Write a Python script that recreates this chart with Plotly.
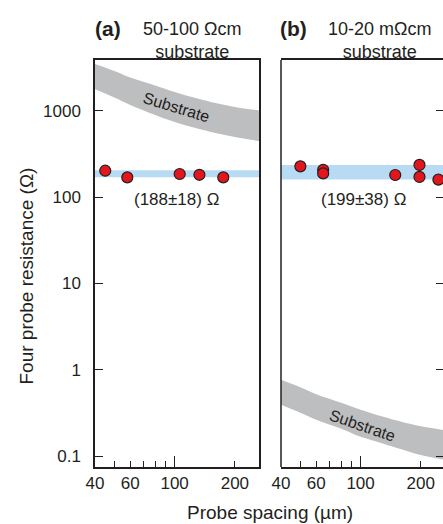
import plotly.graph_objects as go
import math

# ---------------- data ----------------
SPACING_A = [45, 58, 106, 133, 175]
R_A = [203, 170, 186, 182, 170]
SPACING_B = [50, 65, 65, 149, 197, 197, 245]
R_B = [228, 208, 189, 181, 237, 172, 160]

MEAN_A, ERR_A = 188, 18
MEAN_B, ERR_B = 199, 38
BAND_X = [40, 270]

SUB_X = [40, 50, 60, 80, 100, 130, 160, 200, 264]
SUB_A_HIGH = [3508, 2910, 2446, 1976, 1661, 1396, 1238, 1113, 1013]
SUB_A_LOW = [1785, 1434, 1174, 899, 746, 627, 556, 500, 449]
SUB_B_HIGH = [0.766, 0.627, 0.520, 0.414, 0.344, 0.285, 0.249, 0.221, 0.199]
SUB_B_LOW = [0.393, 0.317, 0.263, 0.207, 0.167, 0.139, 0.120, 0.103, 0.0905]

X_TICKS = [40, 60, 100, 200]
X_MINOR = [50, 70, 80, 90]
Y_TICKS = [0.1, 1, 10, 100, 1000]
Y_TICKTEXT = ["0.1", "1", "10", "100", "1000"]

# ---------------- style ----------------
W, H = 443, 524
INK = "#231f20"
GRAY = "#bdbec0"
BLUE = "#b8dbf3"
RED = "#e3161e"
FONT = "Liberation Sans, Arial, sans-serif"

def fx(p):
    return p / W

def fy(p):
    return 1 - p / H

fig = go.Figure()

def add_band(xs, lo, hi, color, xa, ya, spline=True):
    shape = "spline" if spline else "linear"
    fig.add_trace(go.Scatter(x=xs, y=lo, mode="lines", line=dict(width=0, shape=shape, color=color),
                             xaxis=xa, yaxis=ya, showlegend=False, hoverinfo="skip"))
    fig.add_trace(go.Scatter(x=xs, y=hi, mode="lines", line=dict(width=0, shape=shape, color=color),
                             fill="tonexty", fillcolor=color,
                             xaxis=xa, yaxis=ya, showlegend=False, hoverinfo="skip"))

# panel a
add_band(SUB_X, SUB_A_LOW, SUB_A_HIGH, GRAY, "x", "y")
add_band(BAND_X, [MEAN_A - ERR_A] * 2, [MEAN_A + ERR_A] * 2, BLUE, "x", "y", spline=False)
fig.add_trace(go.Scatter(x=SPACING_A, y=R_A, mode="markers", xaxis="x", yaxis="y",
                         marker=dict(size=11, color=RED, line=dict(width=1.2, color=INK)),
                         showlegend=False))
# panel b
add_band(SUB_X, SUB_B_LOW, SUB_B_HIGH, GRAY, "x2", "y2")
add_band(BAND_X, [MEAN_B - ERR_B] * 2, [MEAN_B + ERR_B] * 2, BLUE, "x2", "y2", spline=False)
fig.add_trace(go.Scatter(x=SPACING_B, y=R_B, mode="markers", xaxis="x2", yaxis="y2",
                         marker=dict(size=11, color=RED, line=dict(width=1.2, color=INK)),
                         showlegend=False))

# ---------------- axes ----------------
YR = [math.log10(0.0746), math.log10(3900)]
XRA = [math.log10(40), math.log10(264)]
XRB = [math.log10(40), math.log10(40) + 162 / 200]
YDOM = [fy(467), fy(60)]
XDA = [fx(95), fx(259)]
XDB = [fx(281), 1.0]

tickfont = dict(family=FONT, size=17, color=INK)

common_x = dict(type="log", showgrid=False, zeroline=False, showline=True, linecolor=INK, linewidth=1.5,
                mirror=True, ticks="inside", ticklen=6, tickwidth=1.3, tickcolor=INK,
                tickmode="array", tickvals=X_TICKS, ticktext=[str(v) for v in X_TICKS],
                tickfont=tickfont, ticklabelstandoff=0, automargin=False,
                minor=dict(tickmode="array", tickvals=X_MINOR, ticks="inside", ticklen=6,
                           tickwidth=1.3, tickcolor=INK, showgrid=False))

fig.update_layout(
    width=W, height=H,
    margin=dict(l=0, r=0, t=0, b=0),
    paper_bgcolor="white", plot_bgcolor="white",
    xaxis=dict(domain=XDA, range=XRA, anchor="y", **common_x),
    xaxis2=dict(domain=XDB, range=XRB, anchor="y2", **common_x),
    xaxis3=dict(type="log", overlaying="x", anchor="y", range=XRA, showgrid=False, zeroline=False,
                showline=False, ticks="inside", ticklen=11, tickwidth=1.3, tickcolor=INK,
                tickmode="array", tickvals=[100], showticklabels=False, automargin=False),
    xaxis4=dict(type="log", overlaying="x2", anchor="y2", range=XRB, showgrid=False, zeroline=False,
                showline=False, ticks="inside", ticklen=11, tickwidth=1.3, tickcolor=INK,
                tickmode="array", tickvals=[100], showticklabels=False, automargin=False),
    yaxis=dict(domain=YDOM, range=YR, type="log", anchor="x", showgrid=False, zeroline=False,
               showline=True, linecolor=INK, linewidth=1.5, mirror=True,
               ticks="inside", ticklen=8, tickwidth=1.3, tickcolor=INK,
               tickmode="array", tickvals=Y_TICKS, ticktext=Y_TICKTEXT,
               tickfont=tickfont, ticklabelstandoff=9, automargin=False),
    yaxis2=dict(domain=YDOM, range=YR, type="log", anchor="x2", side="right", showgrid=False,
                zeroline=False, showline=False,
                ticks="inside", ticklen=7, tickwidth=1.3, tickcolor=INK,
                tickmode="array", tickvals=Y_TICKS, showticklabels=False, automargin=False),
    shapes=[dict(type="line", xref="x2 domain", yref="y2 domain", x0=0, x1=0, y0=0, y1=1,
                 line=dict(color=INK, width=1.5))],
    showlegend=False,
)

# empty traces so the overlay tick axes render
fig.add_trace(go.Scatter(x=[], y=[], xaxis="x3", yaxis="y", showlegend=False))
fig.add_trace(go.Scatter(x=[], y=[], xaxis="x4", yaxis="y2", showlegend=False))

ann = []
def text(x, y, s, size=18, xref="paper", yref="paper", angle=0, bold=False, italic=False, **kw):
    f = dict(family=FONT, size=size, color=INK)
    if bold:
        f["weight"] = "bold"
    if italic:
        f["style"] = "italic"
    ann.append(dict(x=x, y=y, xref=xref, yref=yref, text=s, showarrow=False, font=f,
                    textangle=angle, xanchor="center", yanchor="middle", **kw))

L = math.log10
# panel titles
text(fx(107.5), fy(29), "(a)", size=21, bold=True)
text(fx(192.5), fy(40), "50-100 Ωcm<br>substrate", size=18)
text(fx(293.5), fy(29), "(b)", size=21, bold=True)
text(fx(379.5), fy(40), "10-20 mΩcm<br>substrate", size=18)

# in-plot labels (log axes take log10 positions)
text(L(102.7), L(1083), "Substrate", size=16, xref="x", yref="y", angle=17)
text(L(101.7), L(0.224), "Substrate", size=16, xref="x2", yref="y2", angle=19)
text(L(102.7), L(93.5), f"({MEAN_A}±{ERR_A}) Ω", size=17, xref="x", yref="y")
text(L(103.2), L(93.5), f"({MEAN_B}±{ERR_B}) Ω", size=17, xref="x2", yref="y2")

# axis titles
text(fx(270), fy(512), "Probe spacing (µm)", size=19)
text(fx(25.5), fy(276), "Four probe resistance (Ω)", size=19, angle=-90)

fig.update_layout(annotations=ann)
fig.write_html("out.html", config={"displayModeBar": False},
               post_script="document.body.style.margin='0';document.body.style.overflow='hidden';")
